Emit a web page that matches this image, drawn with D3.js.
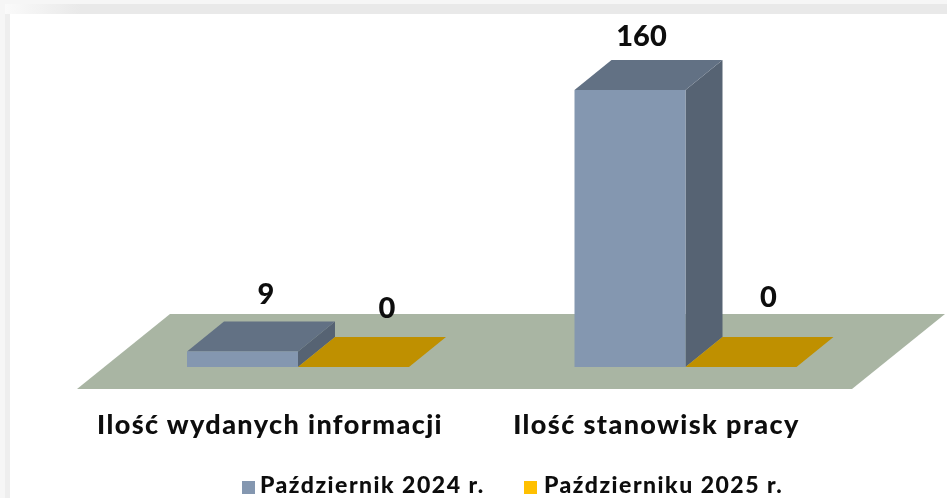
<!DOCTYPE html>
<html>
<head>
<meta charset="utf-8">
<script src="https://cdn.jsdelivr.net/npm/d3@7"></script>
<style>
html, body { margin: 0; padding: 0; background: #fff; overflow: hidden; }
text { font-family: Lato, "Open Sans", sans-serif; font-weight: 900; fill: #0a0a0a; }
</style>
</head>
<body>
<script>
var categories = ["Ilość wydanych informacji", "Ilość stanowisk pracy"];
var seriesNames = ["Październik 2024 r.", "Październiku 2025 r."];
var values2024 = [9, 160];
var values2025 = [0, 0];
var frontColors = ["#8497b0", "#bf9000"];
var topColors = ["#627184", "#bf9000"];
var sideColors = ["#566373", "#bf9000"];
var legendColors = ["#8497b0", "#ffc000"];

var width = 947;
var height = 498;

var svg = d3.select('body')
    .append('svg')
    .attr('width', width)
    .attr('height', height)
    .style('display', 'block');

var defs = svg.append('defs');
defs.append('filter').attr('id', 'soft')
    .append('feGaussianBlur').attr('stdDeviation', 0.7);

var topFade = defs.append('linearGradient').attr('id', 'topFade');
topFade.append('stop').attr('offset', 0).attr('stop-color', '#fafafa');
topFade.append('stop').attr('offset', 0.08).attr('stop-color', '#e9e9e9');
topFade.append('stop').attr('offset', 1).attr('stop-color', '#e9e9e9');

// frame around the white panel
svg.append('rect').attr('width', width).attr('height', height).attr('fill', '#f6f6f6');
svg.append('rect').attr('x', 5).attr('y', 4).attr('width', width - 5).attr('height', 10).attr('fill', 'url(#topFade)');
svg.append('rect').attr('x', 5).attr('y', 14).attr('width', 5).attr('height', height - 14).attr('fill', '#eeeeee');
svg.append('rect').attr('x', 10).attr('y', 14).attr('width', width - 10).attr('height', height - 14).attr('fill', '#fff');

var chart = svg.append('g').attr('filter', 'url(#soft)');

var baseY = 367;
var floorFront = 389;
var floorDepth = { dx: 93, dy: -75 };
var barDepth = { dx: 37, dy: -30 };

var x0 = d3.scaleBand().domain(categories).range([77, 852]);
var x1 = d3.scaleBand().domain(seriesNames).range([110, 332]);
var y = d3.scaleLinear().domain([0, 160]).range([baseY, 90]);

function poly(points, fill) {
    chart.append('polygon')
        .attr('points', points.map(function (p) { return p.join(','); }).join(' '))
        .attr('fill', fill);
}

// floor
poly([
    [x0.range()[0], floorFront],
    [x0.range()[1], floorFront],
    [x0.range()[1] + floorDepth.dx, floorFront + floorDepth.dy],
    [x0.range()[0] + floorDepth.dx, floorFront + floorDepth.dy]
], '#a9b5a3');

var series = [values2024, values2025];
// data labels were placed by hand in the original, [series][category]
var labelShift = [[5, -7], [15, 9]];
var labelLift = [[17, 14], [19, 30]];

categories.forEach(function (cat, c) {
    series.forEach(function (vals, s) {
        var v = vals[c];
        var left = x0(cat) + x1(seriesNames[s]);
        var right = left + x1.bandwidth();
        var top = y(v);
        var dx = barDepth.dx;
        var dy = barDepth.dy;

        poly([[right, baseY], [right + dx, baseY + dy], [right + dx, top + dy], [right, top]], sideColors[s]);
        poly([[left, top], [right, top], [right + dx, top + dy], [left + dx, top + dy]], topColors[s]);
        if (v > 0) {
            chart.append('rect')
                .attr('x', left)
                .attr('y', top)
                .attr('width', right - left)
                .attr('height', baseY - top)
                .attr('fill', frontColors[s]);
        }

        chart.append('text')
            .attr('x', (left + right + dx) / 2 + labelShift[s][c])
            .attr('y', top + dy - labelLift[s][c])
            .attr('text-anchor', 'middle')
            .attr('font-size', 29)
            .text(v);
    });

    chart.append('text')
        .attr('x', c == 0 ? 270 : 656.5)
        .attr('y', 434)
        .attr('text-anchor', 'middle')
        .attr('font-size', 27)
        .attr('letter-spacing', 1.4)
        .text(cat);
});

// legend
var legendX = [242, 524];
var legendTextGap = [18, 20];
seriesNames.forEach(function (name, i) {
    chart.append('rect')
        .attr('x', legendX[i])
        .attr('y', 481)
        .attr('width', 13)
        .attr('height', 13)
        .attr('fill', legendColors[i]);
    chart.append('text')
        .attr('x', legendX[i] + legendTextGap[i])
        .attr('y', 493)
        .attr('font-size', 23)
        .attr('letter-spacing', 1.5)
        .text(name);
});
</script>
</body>
</html>
